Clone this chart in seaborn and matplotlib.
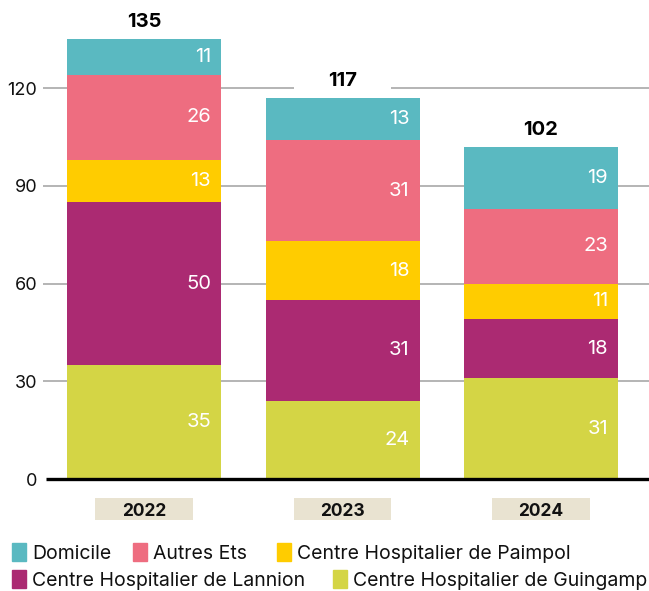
import matplotlib
matplotlib.use("Agg")
import matplotlib.pyplot as plt
import matplotlib.patches as mpatches
import matplotlib.transforms as mtransforms
import seaborn as sns
import pandas as pd
import numpy as np

years = ["2022", "2023", "2024"]
series = ["Centre Hospitalier de Guingamp", "Centre Hospitalier de Lannion",
          "Centre Hospitalier de Paimpol", "Autres Ets", "Domicile"]
guingamp = [35, 24, 31]
lannion = [50, 31, 18]
paimpol = [13, 18, 11]
autres = [26, 31, 23]
domicile = [11, 13, 19]
totals = [135, 117, 102]
yticks = [0, 30, 60, 90, 120]

colors = {
    "Domicile": "#5ab9c1",
    "Autres Ets": "#ee6d80",
    "Centre Hospitalier de Paimpol": "#ffcc00",
    "Centre Hospitalier de Lannion": "#ab2a72",
    "Centre Hospitalier de Guingamp": "#d4d545",
}

sns.set_theme(style="white")
plt.rcParams["font.family"] = ["Inter", "DejaVu Sans"]

values = [guingamp, lannion, paimpol, autres, domicile]
cum = np.cumsum(np.array(values), axis=0)

W, H = 649, 591
fig = plt.figure(figsize=(W / 100, H / 100), dpi=100)
ax_left = 43
ax_bottom = 479
ax_top = 23
ax = fig.add_axes([ax_left / W, (H - ax_bottom) / H, 1 - ax_left / W, (ax_bottom - ax_top) / H])

# gridlines
for t in yticks[1:]:
    ax.axhline(t, color="#a0a0a0", lw=1.1, zorder=0)

# draw from top-most cumulative down so stacking appears
for i in range(len(series) - 1, -1, -1):
    df = pd.DataFrame({"year": years, "val": cum[i]})
    sns.barplot(data=df, x="year", y="val", order=years, color=colors[series[i]],
                width=0.776, saturation=1, ax=ax, zorder=2, linewidth=0)

# value labels
for j in range(3):
    for i in range(len(series)):
        bottom = cum[i][j] - values[i][j]
        mid = bottom + values[i][j] / 2
        ax.text(j + 0.338, mid, str(values[i][j]), color="white", fontsize=14.5,
                ha="right", va="center", zorder=4)
    # white knockout behind total label (covers gridlines only)
    ax.add_patch(mpatches.Rectangle((j - 0.245, totals[j] + 1.5), 0.49, 7.5,
                                    facecolor="white", edgecolor="none", zorder=1))
    ax.annotate(str(totals[j]), (j, totals[j]), xytext=(0, 12.2), textcoords="offset points",
                ha="center", va="center", fontsize=14.5, fontweight="bold", color="black",
                zorder=5, annotation_clip=False)

ax.plot([-0.495, 2.6], [0, 0], color="black", lw=2.4, zorder=6, clip_on=False,
        solid_capstyle="butt")
ax.set_xlim(-0.509, 2.544)
ax.set_ylim(0, 140)
ax.set_yticks(yticks)
ax.set_yticklabels([str(t) for t in yticks], fontsize=13, color="#111111")
ax.tick_params(axis="y", length=0, pad=4.3)
ax.set_xticks(range(3))
ax.set_xticklabels(years, fontsize=12.5, fontweight="bold", color="#111111")
ax.tick_params(axis="x", length=0, pad=17)
ax.set_xlabel("")
ax.set_ylabel("")
for s in ax.spines.values():
    s.set_visible(False)

# beige boxes behind year labels
trans = mtransforms.blended_transform_factory(ax.transData, fig.transFigure)
for j in range(3):
    ax.add_patch(mpatches.Rectangle((j - 0.245, 1 - 520 / H), 0.49, 22 / H,
                                    facecolor="#e9e3d1", edgecolor="none",
                                    transform=trans, clip_on=False, zorder=0))

# legend entries placed individually
def handle(name):
    return mpatches.Patch(color=colors[name], label=name)

kw = dict(frameon=False, fontsize=14, handlelength=0.72, handleheight=1.05,
          handletextpad=0.3, borderaxespad=0, borderpad=0, labelcolor="#111111",
          loc="center left")
entries = [
    ("Domicile", 12, 553),
    ("Autres Ets", 133, 553),
    ("Centre Hospitalier de Paimpol", 277, 553),
    ("Centre Hospitalier de Lannion", 12, 580),
    ("Centre Hospitalier de Guingamp", 333, 580),
]
for name, x, y in entries:
    leg = fig.legend(handles=[handle(name)], bbox_to_anchor=(x / W, 1 - y / H), **kw)

fig.savefig("out.png", dpi=100)
